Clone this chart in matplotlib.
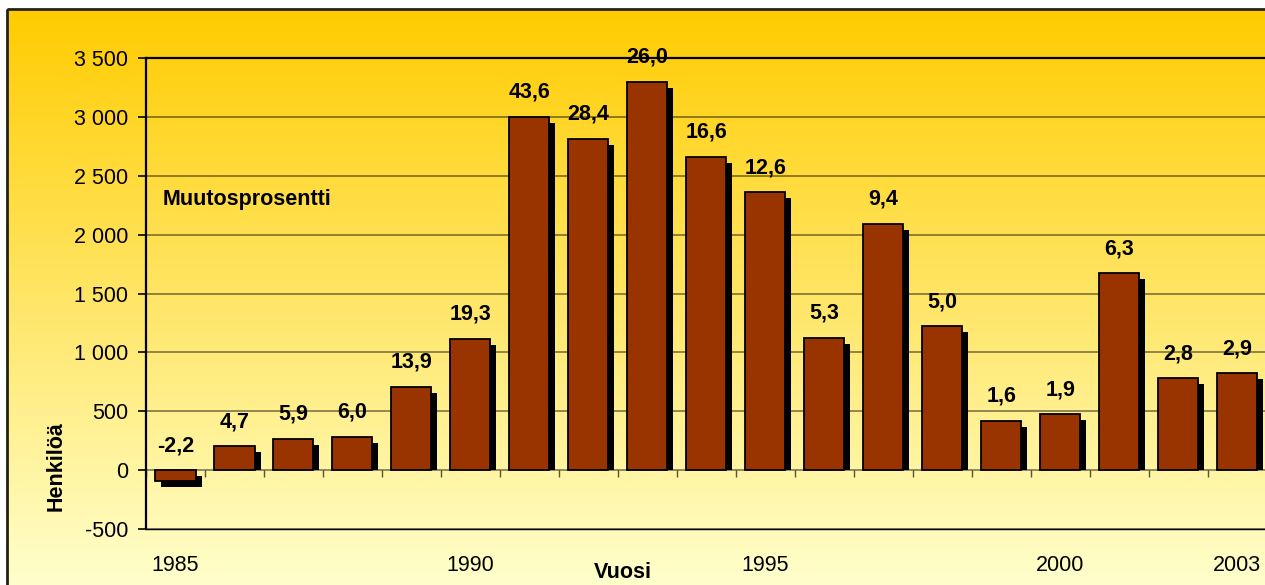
import numpy as np
import matplotlib
matplotlib.use("Agg")
import matplotlib.pyplot as plt
from matplotlib.patches import Rectangle
from matplotlib.ticker import FuncFormatter

plt.rcParams["font.family"] = ["Liberation Sans", "DejaVu Sans"]

# ── Data ─────────────────────────────────────────────────────────────
years = list(range(1985, 2004))
persons = [-95, 204, 266, 283, 708, 1115, 3000, 2814, 3300, 2661,
           2361, 1124, 2092, 1223, 419, 476, 1673, 781, 824]
change_pct = [-2.2, 4.7, 5.9, 6.0, 13.9, 19.3, 43.6, 28.4, 26.0, 16.6,
              12.6, 5.3, 9.4, 5.0, 1.6, 1.9, 6.3, 2.8, 2.9]
shown_years = [1985, 1990, 1995, 2000, 2003]

W, H = 1265, 585
BAR = "#993300"
FS = 15.5

fig = plt.figure(figsize=(W / 100, H / 100), dpi=100)
fig.patch.set_facecolor("white")

# ── Background gradient + outer frame ───────────────────────────────
bg = fig.add_axes([0, 0, 1, 1], zorder=-5)
bg.set_xlim(0, W)
bg.set_ylim(H, 0)
bg.axis("off")
top = np.array([255, 204, 0]) / 255
bot = np.array([255, 255, 204]) / 255
t = np.linspace(0, 1, 256)[:, None]
grad = (top * (1 - t) + bot * t)[:, None, :]
bg.imshow(grad, extent=(7, W + 5, H, 9), aspect="auto", interpolation="bilinear")
bg.add_patch(Rectangle((7, 9), W, H, fill=False, ec="#222211", lw=2))

# ── Main axes ────────────────────────────────────────────────────────
ax = fig.add_axes([146 / W, 56 / H, 1120.5 / W, 471 / H])
ax.patch.set_alpha(0)
ylo, yhi = -500, 3500
ax.set_ylim(ylo, yhi)
ax.set_xlim(-0.5, len(years) - 0.5)

x = np.arange(len(years))
vals = np.array(persons, dtype=float)

# shadow offsets: 6 px right / 6 px down, converted to data units
px_x = (len(years)) / 1120.5
px_y = (yhi - ylo) / 471
dx, dy = 6 * px_x, 6 * px_y
bw = 0.68
sh_bottom = np.where(vals > 0, 0, -dy)
sh_height = np.where(vals > 0, np.maximum(vals - dy, 0), vals)
ax.bar(x + dx, sh_height, bottom=sh_bottom, width=bw, color="black", zorder=2, lw=0)
ax.bar(x, vals, width=bw, color=BAR, edgecolor="black", lw=1.3, zorder=3)

for xi, v, p in zip(x, vals, change_pct):
    ax.annotate(f"{p:.1f}".replace(".", ","), (xi, max(v, 0)),
                xytext=(0, 10), textcoords="offset points",
                ha="center", va="bottom", fontsize=FS, fontweight="bold", zorder=5)

ax.text(0.015, 0.70, "Muutosprosentti", transform=ax.transAxes,
        ha="left", va="center", fontsize=FS, fontweight="bold")

# ── Axes styling ─────────────────────────────────────────────────────
ax.set_yticks(np.arange(ylo, yhi + 1, 500))
ax.yaxis.set_major_formatter(FuncFormatter(lambda v, _: f"{v:,.0f}".replace(",", " ")))
ax.tick_params(axis="y", length=6, width=1.2, pad=7, labelsize=FS)
ax.yaxis.grid(True, color="black", alpha=0.55, lw=1.1)
ax.set_axisbelow(True)

ax.set_xticks([years.index(y) for y in shown_years])
ax.set_xticklabels([str(y) for y in shown_years])
ax.tick_params(axis="x", length=0, pad=19, labelsize=FS)

for s in ["left", "top"]:
    ax.spines[s].set_linewidth(1.6)
    ax.spines[s].set_color("black")
ax.spines["bottom"].set_linewidth(1.0)
ax.spines["right"].set_visible(False)

# category separator ticks on the zero line
sec = ax.secondary_xaxis((0 - ylo) / (yhi - ylo))
sec.set_xticks(np.arange(len(years) + 1) - 0.5)
sec.set_xticklabels([])
sec.tick_params(axis="x", direction="out", length=5, width=1.0, color="#555533")
for s in sec.spines.values():
    s.set_visible(False)

fig.text(56.5 / W, 1 - 466 / H, "Henkilöä", rotation=90, ha="center", va="center",
         fontsize=FS, fontweight="bold")
fig.text(623 / W, 1 - 572 / H, "Vuosi", ha="center", va="center",
         fontsize=FS, fontweight="bold")

fig.savefig("out.png", dpi=100)
